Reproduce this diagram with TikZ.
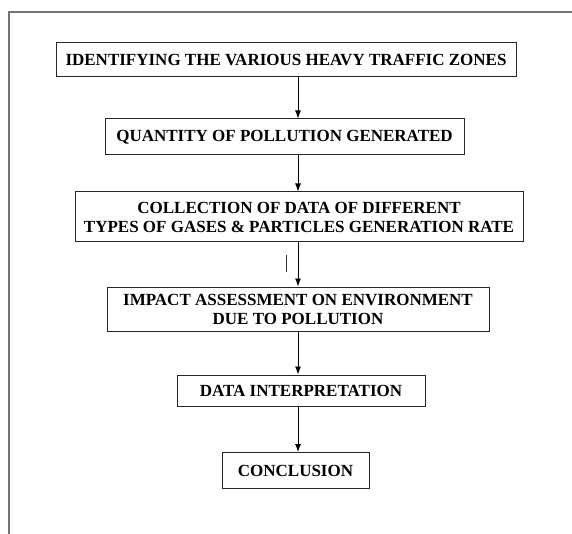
\documentclass[tikz,border=0pt]{standalone}
\usepackage{fontspec}
\setmainfont{Liberation Serif}
\usepackage{tikz}
\usetikzlibrary{arrows.meta, calc}

\begin{document}
\begin{tikzpicture}[x=1pt, y=1pt,
	            every rectangle node/.style={
	            draw=black!85,
	            line width=1pt,
	            align = center,
	            inner sep=0pt,
	            font=\fontsize{17}{19}\selectfont\bfseries,
	            },
	            >={Latex[length=8pt, width=6pt]},
	            every path/.style={
                    line width=0.9pt
                }]

	        \useasboundingbox (0,0) rectangle (572,-534);

	        % outer frame (only top and left show)
	        \draw[black!55, line width=1.4pt] (572,-12) -- (9,-12) -- (9,-534);

	        \node[rectangle, minimum width=460, minimum height=34] (zones) at (286,-60) {IDENTIFYING THE VARIOUS HEAVY TRAFFIC ZONES};
	        \node[rectangle, minimum width=359, minimum height=36] (quantity) at (284.5,-137) {QUANTITY OF POLLUTION GENERATED};
	        \node[rectangle, minimum width=448, minimum height=50] (gases) at (299,-217) {COLLECTION OF DATA OF DIFFERENT\\TYPES OF GASES \& PARTICLES GENERATION RATE};
	        \node[rectangle, minimum width=382, minimum height=44] (impact) at (298,-309) {IMPACT ASSESSMENT ON ENVIRONMENT\\DUE TO POLLUTION};
	        \node[rectangle, minimum width=248, minimum height=31] (interp) at (301,-390.5) {DATA INTERPRETATION};
	        \node[rectangle, minimum width=147, minimum height=36] (concl) at (295.5,-470.5) {CONCLUSION};

	        \coordinate (axis) at (298,0);

	        \draw[->] (zones.south -| axis) -- (quantity.north -| axis);
	        \draw[->] (quantity.south -| axis) -- (gases.north -| axis);
	        \draw[->] (gases.south -| axis) -- (impact.north -| axis);
	        \draw[->] (impact.south -| axis) -- (interp.north -| axis);
	        \draw[->] (interp.south -| axis) -- (concl.north -| axis);

	        % stray tick beside the third arrow
	        \draw[black!80] (286,-255) -- (286,-272);

	    \end{tikzpicture}
\end{document}
